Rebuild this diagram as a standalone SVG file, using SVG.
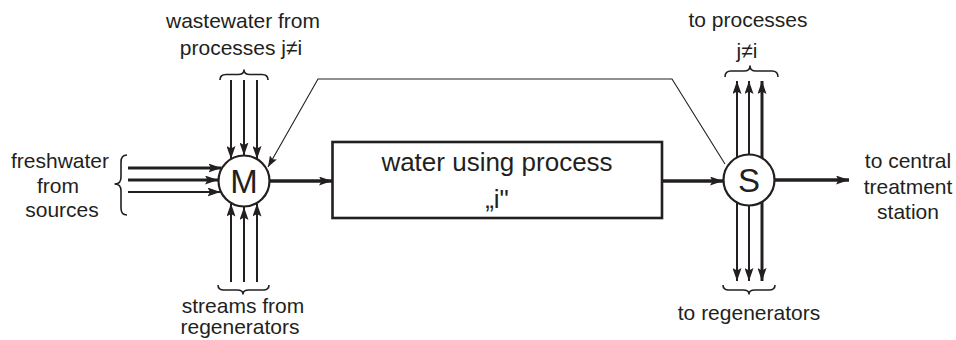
<svg xmlns="http://www.w3.org/2000/svg" width="956" height="340" viewBox="0 0 956 340">
  <style>
    .lbl { font-family: "Liberation Sans", Arial, sans-serif; font-size: 21px; fill: #231f20; text-anchor: middle; }
    .big { font-family: "Liberation Sans", Arial, sans-serif; font-size: 26px; fill: #231f20; text-anchor: middle; }
    .node-letter { font-family: "Liberation Sans", Arial, sans-serif; font-size: 33px; fill: #231f20; text-anchor: middle; }
    .ring { fill: #fff; stroke: #231f20; stroke-width: 2.2; }
    .box { fill: #fff; stroke: #231f20; stroke-width: 2.6; }
    .flow { fill: none; stroke: #231f20; stroke-width: 2; marker-end: url(#ah); }
    .flow.heavy { stroke-width: 3; }
    .flow.main { stroke-width: 3.4; }
    .recycle { fill: none; stroke: #231f20; stroke-width: 1.1; marker-end: url(#ahs); }
    .brace { fill: none; stroke: #231f20; stroke-width: 1.6; stroke-linejoin: round; }
  </style>
  <defs>
    <marker id="ah" viewBox="0 0 13 9" refX="13" refY="4.5" markerWidth="13" markerHeight="9" markerUnits="userSpaceOnUse" orient="auto">
      <path d="M0,0 L13,4.5 L0,9 L2.5,4.5 Z" fill="#231f20"/>
    </marker>
    <marker id="ahs" viewBox="0 0 11 8" refX="11" refY="4" markerWidth="11" markerHeight="8" markerUnits="userSpaceOnUse" orient="auto">
      <path d="M0,0 L11,4 L0,8 L2,4 Z" fill="#231f20"/>
    </marker>
  </defs>

  <!-- connectors -->
  <g id="connectors">
    <!-- wastewater from other processes into the mixer -->
    <line class="flow" x1="231" y1="80" x2="231" y2="159"/>
    <line class="flow" x1="244" y1="80" x2="244" y2="155.5"/>
    <line class="flow" x1="257" y1="80" x2="257" y2="159"/>
    <!-- freshwater from sources -->
    <line class="flow heavy" x1="128" y1="168" x2="221.5" y2="168"/>
    <line class="flow heavy" x1="128" y1="180" x2="218" y2="180"/>
    <line class="flow" x1="128" y1="192" x2="220.5" y2="192"/>
    <!-- streams from regenerators -->
    <line class="flow" x1="231" y1="282" x2="231" y2="203.5"/>
    <line class="flow" x1="244" y1="282" x2="244" y2="207"/>
    <line class="flow" x1="257" y1="282" x2="257" y2="203.5"/>
    <!-- mixer to process, process to splitter, splitter to central treatment -->
    <line class="flow main" x1="270" y1="181" x2="332" y2="181"/>
    <line class="flow main" x1="662" y1="181" x2="723" y2="181"/>
    <line class="flow main" x1="775" y1="180" x2="849" y2="180"/>
    <!-- splitter to other processes -->
    <line class="flow" x1="737" y1="158" x2="737" y2="81"/>
    <line class="flow" x1="749" y1="155" x2="749" y2="81"/>
    <line class="flow heavy" x1="762" y1="158" x2="762" y2="81"/>
    <!-- splitter to regenerators -->
    <line class="flow" x1="737" y1="202" x2="737" y2="281"/>
    <line class="flow" x1="749" y1="205" x2="749" y2="281"/>
    <line class="flow heavy" x1="762" y1="202" x2="762" y2="281"/>
    <!-- internal recycle back to the mixer -->
    <polyline class="recycle" points="725,164 672,79 318,79 268,167"/>
  </g>

  <!-- braces grouping stream bundles -->
  <g id="braces">
    <path class="brace" d="M220,80 Q220,74.5 226,74.5 L238,74.5 Q244,74.5 244,70 Q244,74.5 250,74.5 L262,74.5 Q268,74.5 268,80"/>
    <path class="brace" d="M218,285 Q218,290 224,290 L237,290 Q243,290 243,294 Q243,290 249,290 L263,290 Q269,290 269,285"/>
    <path class="brace" d="M725,77 Q725,71 731,71 L744,71 Q750,71 750,66 Q750,71 756,71 L772,71 Q778,71 778,77"/>
    <path class="brace" d="M723,285 Q723,290 729,290 L743,290 Q749,290 749,294 Q749,290 755,290 L769,290 Q775,290 775,285"/>
    <path class="brace" d="M127,155 Q121,155 121,162 L121,177 Q121,184 115,184 Q121,184 121,191 L121,208 Q121,215 127,215"/>
  </g>

  <!-- mixer -->
  <g id="mixer">
    <circle class="ring" cx="244" cy="181" r="25.5"/>
    <text class="node-letter" x="244" y="193">M</text>
  </g>

  <!-- water using process -->
  <g id="process">
    <rect class="box" x="332.5" y="142" width="329.5" height="76"/>
    <text class="big" x="497" y="171">water using process</text>
    <text class="big" x="497" y="208">„i"</text>
  </g>

  <!-- splitter -->
  <g id="splitter">
    <circle class="ring" cx="749" cy="180" r="25.5"/>
    <text class="node-letter" x="749" y="192">S</text>
  </g>

  <!-- labels -->
  <g id="label-wastewater">
    <text class="lbl" x="243" y="28">wastewater from</text>
    <text class="lbl" x="241" y="55">processes j≠i</text>
  </g>
  <g id="label-freshwater">
    <text class="lbl" x="60" y="168">freshwater</text>
    <text class="lbl" x="58" y="193">from</text>
    <text class="lbl" x="62" y="217">sources</text>
  </g>
  <g id="label-regenerated">
    <text class="lbl" x="243" y="313">streams from</text>
    <text class="lbl" x="240" y="334">regenerators</text>
  </g>
  <g id="label-to-processes">
    <text class="lbl" x="748" y="27">to processes</text>
    <text class="lbl" x="747" y="58">j≠i</text>
  </g>
  <g id="label-to-regenerators">
    <text class="lbl" x="749" y="320">to regenerators</text>
  </g>
  <g id="label-central">
    <text class="lbl" x="908" y="168">to central</text>
    <text class="lbl" x="908" y="194">treatment</text>
    <text class="lbl" x="908" y="219">station</text>
  </g>
</svg>
